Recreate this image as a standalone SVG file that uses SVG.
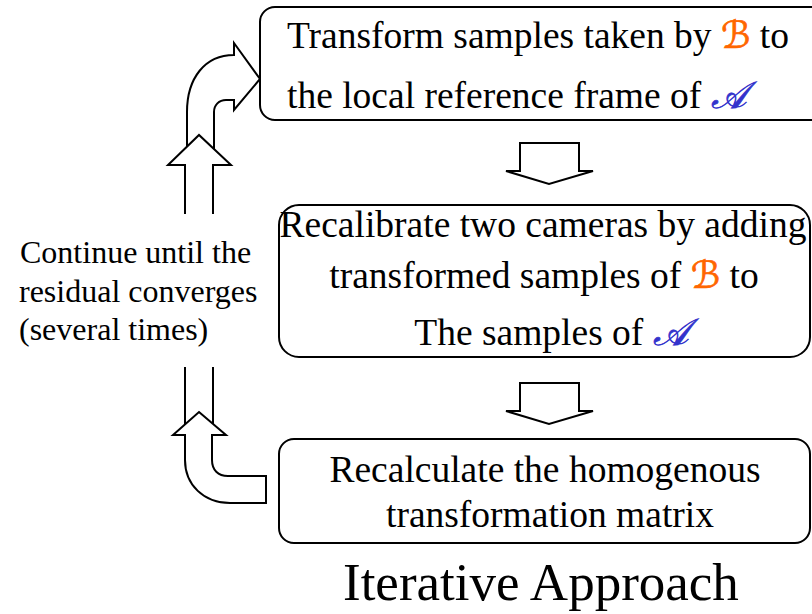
<svg xmlns="http://www.w3.org/2000/svg" width="812" height="614" viewBox="0 0 812 614">
<style>
.box{fill:#fff;stroke:#000;stroke-width:2}
.arr{fill:#fff;stroke:#000;stroke-width:2;stroke-linejoin:miter}
.ln{fill:none;stroke:#000;stroke-width:2}
.t{font-family:"Liberation Serif","Times New Roman",serif;fill:#000}
.bx{font-size:37.5px}
.sb{fill:#ff6600;stroke:#ff6600;stroke-width:0.7;font-style:italic}
.sa{fill:#3333cc;stroke:#3333cc;stroke-width:0.7;font-style:italic}
.sym{font-family:"DejaVu Serif","DejaVu Sans","Liberation Serif",serif}
</style>
<g id="connectors">
  <path class="arr" d="M187,147 L187,112 C187,78 205,55 234,55 L234,43 L260,79 L234,110 L234,100 L226,100 C219,100 214,105 214,112 L214,150 Z"/>
  <path class="arr" d="M185,214 L185,165 L168,165 L199,135 L231,165 L213,165 L213,214"/>
  <path class="arr" d="M520,143 L579,143 L579,171 L593,171 L549,184 L506,171 L520,171 Z"/>
  <path class="arr" d="M520,383 L579,383 L579,411 L593,411 L549,424 L506,411 L520,411 Z"/>
  <path class="ln" d="M185,367 L185,426 M213,367 L213,426"/>
  <path class="arr" d="M199,412 L226,435 L212,435 L212,460 C212,470 218,476 228,476 L266,476 L266,503 L230,503 C204,503 185,485 185,460 L185,435 L173,435 Z"/>
</g>
<g id="node-transform">
  <rect class="box" x="260" y="7" width="570" height="113" rx="15"/>
  <text class="t bx" x="287" y="48">Transform samples taken by <tspan class="sb sym">ℬ</tspan> to</text>
  <text class="t bx" x="287" y="108">the local reference frame of <tspan class="sa sym">𝒜</tspan></text>
</g>
<g id="node-recalibrate">
  <rect class="box" x="279" y="205" width="531" height="152" rx="20"/>
  <text class="t bx" x="543" y="237" text-anchor="middle">Recalibrate two cameras by adding</text>
  <text class="t bx" x="544" y="288" text-anchor="middle">transformed samples of <tspan class="sb sym">ℬ</tspan> to</text>
  <text class="t bx" x="551" y="345" text-anchor="middle">The samples of <tspan class="sa sym">𝒜</tspan></text>
</g>
<g id="node-recalculate">
  <rect class="box" x="279" y="439" width="531" height="104" rx="15"/>
  <text class="t bx" x="545" y="482" text-anchor="middle">Recalculate the homogenous</text>
  <text class="t bx" x="550" y="527" text-anchor="middle">transformation matrix</text>
</g>
<g id="label-loop">
  <text class="t" font-size="32" x="20" y="263">Continue until the</text>
  <text class="t" font-size="32" x="19" y="302">residual converges</text>
  <text class="t" font-size="32" x="19" y="340">(several times)</text>
</g>
<g id="title">
  <text class="t" font-size="53" x="343" y="600">Iterative Approach</text>
</g>
</svg>
